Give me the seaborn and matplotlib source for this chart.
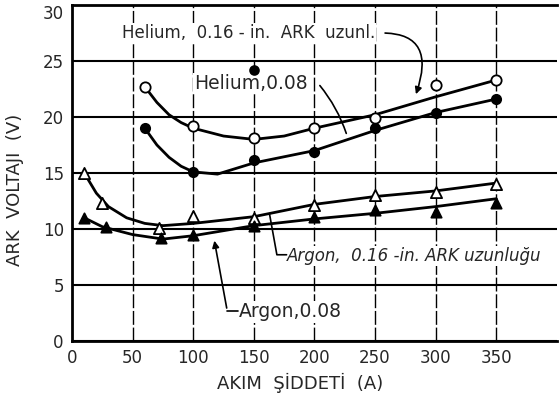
import matplotlib
matplotlib.use("Agg")
import matplotlib.pyplot as plt
import seaborn as sns
import pandas as pd

# ---- measured points (markers) ----
he16_x = [60, 100, 150, 200, 250, 300, 350]
he16_y = [22.7, 19.2, 18.1, 19.0, 19.9, 22.9, 23.3]
he08_x = [60, 100, 150, 200, 250, 300, 350]
he08_y = [19.0, 15.1, 16.2, 16.9, 19.0, 20.4, 21.6]
ar16_x = [10, 25, 72, 100, 150, 200, 250, 300, 350]
ar16_y = [15.0, 12.3, 10.1, 11.2, 11.0, 12.1, 13.0, 13.3, 14.0]
ar08_x = [10, 28, 73, 100, 150, 200, 250, 300, 350]
ar08_y = [11.0, 10.2, 9.2, 9.5, 10.3, 11.1, 11.7, 11.5, 12.3]
stray_x = [150]
stray_y = [24.2]

# ---- hand-drawn fitted curves ----
he16_cx = [60, 70, 80, 90, 100, 125, 150, 175, 200, 250, 300, 350]
he16_cy = [22.7, 21.3, 20.2, 19.5, 19.0, 18.3, 18.0, 18.3, 19.0, 20.2, 21.8, 23.3]
he08_cx = [60, 70, 80, 90, 100, 120, 150, 200, 250, 300, 350]
he08_cy = [19.0, 17.5, 16.4, 15.6, 15.1, 14.9, 15.9, 17.0, 18.8, 20.4, 21.6]
ar16_cx = [10, 20, 30, 45, 60, 75, 100, 150, 200, 250, 300, 350]
ar16_cy = [15.0, 13.2, 12.0, 11.0, 10.5, 10.3, 10.5, 11.1, 12.2, 12.9, 13.4, 14.1]
ar08_cx = [10, 25, 50, 75, 100, 150, 200, 250, 300, 350]
ar08_cy = [11.0, 10.2, 9.5, 9.1, 9.4, 10.3, 10.9, 11.4, 12.0, 12.7]

x_ticks = [0, 50, 100, 150, 200, 250, 300, 350]
y_ticks = [0, 5, 10, 15, 20, 25, 30]

sns.set_style("white")
plt.rcParams['font.family'] = ['DejaVu Sans']

fig = plt.figure(figsize=(5.59, 4.0), dpi=100)
ax = fig.add_axes([0.129, 0.1475, 0.867, 0.84])

# grid
for yv in y_ticks:
    ax.axhline(yv, color='black', lw=1.5, zorder=1)
for xv in x_ticks[1:]:
    ax.axvline(xv, color='black', lw=1.0, ls=(0, (10, 2)), zorder=1)

curves = [(he16_cx, he16_cy), (he08_cx, he08_cy), (ar16_cx, ar16_cy), (ar08_cx, ar08_cy)]
for cx, cy in curves:
    df = pd.DataFrame({'x': cx, 'y': cy})
    sns.lineplot(data=df, x='x', y='y', ax=ax, color='black', lw=2.0,
                 sort=False, zorder=3)

def pts(xs, ys, marker, filled, size=55):
    df = pd.DataFrame({'x': xs, 'y': ys})
    sns.scatterplot(data=df, x='x', y='y', ax=ax, marker=marker, s=size,
                    facecolor='black' if filled else 'white',
                    edgecolor='black', linewidth=1.3, zorder=4)

pts(he16_x, he16_y, 'o', False)
pts(he08_x, he08_y, 'o', True, 45)
pts(ar16_x, ar16_y, '^', False, 65)
pts(ar08_x, ar08_y, '^', True, 55)
pts(stray_x, stray_y, 'o', True, 40)

ax.set_xlim(0, 400)
ax.set_ylim(0, 30)
ax.set_xticks(x_ticks)
ax.set_yticks(y_ticks)
ax.tick_params(length=0, labelsize=12, pad=6)
ylabs = ax.get_yticklabels()
ylabs[-1].set_va('top')
ax.set_xlabel('AKIM  ŞİDDETİ  (A)', fontsize=13)
ax.set_ylabel('ARK  VOLTAJI  (V)', fontsize=13)
ax.xaxis.set_label_coords(0.47, -0.095)
ax.yaxis.set_label_coords(-0.1, 0.45)
for s in ['left', 'bottom', 'top']:
    ax.spines[s].set_linewidth(2.0)
    ax.spines[s].set_color('black')
ax.spines['right'].set_visible(False)

bb = dict(facecolor='white', edgecolor='none', pad=1.0)

# annotations
ax.text(41, 27.5, 'Helium,  0.16 - in.  ARK  uzunl.', fontsize=12, va='center',
        ha='left', bbox=bb, zorder=2)
ax.annotate('', xy=(283, 21.8), xytext=(256, 27.5),
            arrowprops=dict(arrowstyle='-|>', color='black', lw=1.2,
                            connectionstyle='angle3,angleA=0,angleB=70'))
ax.text(101, 23.0, 'Helium,0.08', fontsize=13.5, va='center', ha='left',
        bbox=bb, zorder=2)
ax.annotate('', xy=(227, 18.3), xytext=(203, 23.0),
            arrowprops=dict(arrowstyle='-', color='black', lw=1.2,
                            connectionstyle='arc3,rad=-0.1'))
ax.text(177, 7.6, 'Argon,  0.16 -in. ARK uzunluğu', fontsize=12, va='center',
        ha='left', style='italic', bbox=bb, zorder=2)
ax.plot([163, 169, 177], [11.3, 7.7, 7.7], color='black', lw=1.2, zorder=3)
ax.text(138, 2.6, 'Argon,0.08', fontsize=13.5, va='center', ha='left',
        bbox=bb, zorder=2)
ax.annotate('', xy=(117, 9.2), xytext=(128, 2.7),
            arrowprops=dict(arrowstyle='-|>', color='black', lw=1.2))
ax.plot([128, 137], [2.7, 2.7], color='black', lw=1.2)

fig.savefig('out.png', dpi=100)
